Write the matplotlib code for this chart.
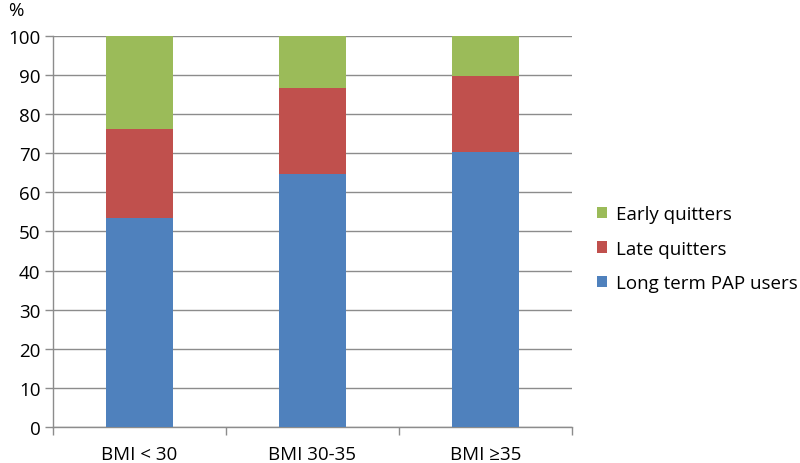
import matplotlib
matplotlib.use("Agg")
import matplotlib.pyplot as plt
import numpy as np

# data (%)
categories = ["BMI < 30", "BMI 30-35", "BMI \u226535"]
long_term = [53.4, 64.7, 70.3]
late_quit = [22.8, 22.0, 19.5]
early_quit = [23.8, 13.3, 10.2]

blue = "#4F81BD"
red = "#C0504D"
green = "#9BBB59"
grid_col = "#8C8C8C"

plt.rcParams['font.family'] = ['Open Sans', 'DejaVu Sans']
fs = 13.5

fig = plt.figure(figsize=(8, 4.64), dpi=100)
ax = fig.add_axes([0.066, 0.078, 0.649, 0.842])

x = np.arange(len(categories))
w = 0.39
bottom2 = np.array(long_term)
bottom3 = bottom2 + np.array(late_quit)

b1 = ax.bar(x, long_term, w, color=blue, label="Long term PAP users", zorder=3)
b2 = ax.bar(x, late_quit, w, bottom=bottom2, color=red, label="Late quitters", zorder=3)
b3 = ax.bar(x, early_quit, w, bottom=bottom3, color=green, label="Early quitters", zorder=3)

ax.set_xlim(-0.5, len(categories) - 0.5)
ax.set_ylim(0, 100)
ax.set_yticks(np.arange(0, 101, 10))
ax.yaxis.grid(True, color=grid_col, linewidth=1, zorder=0)

ax.set_xticks(x)
ax.set_xticklabels(categories, fontsize=fs)
ax.set_xticks(np.arange(-0.5, len(categories), 1), minor=True)
ax.tick_params(axis='x', which='major', length=0, pad=13)
ax.tick_params(axis='x', which='minor', length=6, color=grid_col, width=1)
ax.tick_params(axis='y', length=6, color=grid_col, width=1, labelsize=fs, pad=3)

for s in ['top', 'right']:
    ax.spines[s].set_visible(False)
for s in ['left', 'bottom']:
    ax.spines[s].set_color(grid_col)
    ax.spines[s].set_linewidth(1)

fig.text(0.01, 0.995, "%", fontsize=fs, ha='left', va='top')

leg = fig.legend(handles=[b3, b2, b1], loc='center left', bbox_to_anchor=(0.746, 0.462),
                 frameon=False, fontsize=fs, handlelength=0.55, handleheight=0.55,
                 handletextpad=0.45, labelspacing=0.87, borderpad=0, borderaxespad=0)

fig.savefig("out.png", dpi=100)
